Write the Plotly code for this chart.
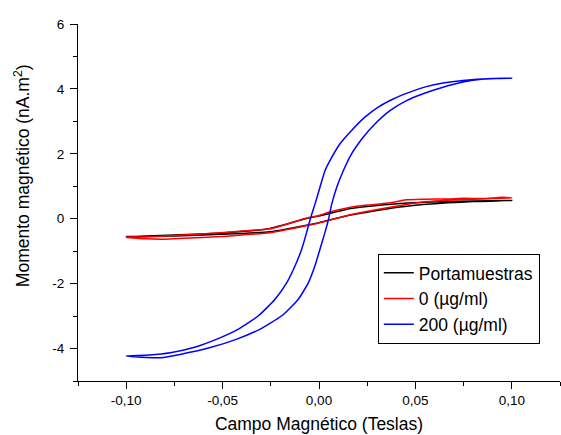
import plotly.graph_objects as go

# Hysteresis loops: field (T) vs magnetic moment (nA.m^2)
# Each loop: ascending branch (-0.10 -> 0.10) followed by descending branch (0.10 -> -0.10)

# Portamuestras (sample holder)
porta_x = [-0.100, -0.075, -0.051, -0.0254, -0.0064, 0.000, 0.0152, 0.0324, 0.0445, 0.067, 0.080, 0.100,
           0.080, 0.067, 0.0445, 0.0324, 0.0152, 0.000, -0.0064, -0.0254, -0.051, -0.075, -0.100]
porta_y = [-0.55, -0.53, -0.48, -0.40, -0.20, -0.12, 0.10, 0.28, 0.38, 0.49, 0.53, 0.56,
           0.55, 0.53, 0.48, 0.42, 0.30, 0.08, 0.01, -0.30, -0.44, -0.50, -0.55]

# 0 (ug/ml)
c0_x = [-0.100, -0.090, -0.080, -0.070, -0.051, -0.040, -0.0254, -0.0064, 0.000, 0.0152, 0.0324, 0.0445,
        0.055, 0.067, 0.080, 0.090, 0.100,
        0.095, 0.085, 0.075, 0.067, 0.055, 0.0445, 0.040, 0.0324, 0.025, 0.0152, 0.005, 0.000,
        -0.0064, -0.0254, -0.040, -0.051, -0.075, -0.090, -0.100]
c0_y = [-0.58, -0.62, -0.63, -0.60, -0.55, -0.50, -0.43, -0.21, -0.13, 0.11, 0.31, 0.43,
        0.52, 0.57, 0.60, 0.62, 0.64,
        0.66, 0.62, 0.63, 0.61, 0.60, 0.58, 0.52, 0.46, 0.42, 0.34, 0.20, 0.10,
        0.02, -0.31, -0.38, -0.43, -0.52, -0.56, -0.56]

# 200 (ug/ml)
c200_x = [-0.100, -0.092, -0.0823, -0.072, -0.0564, -0.0426, -0.0305, -0.0193, -0.0107, -0.0055, -0.0021,
          0.0005, 0.0031, 0.0050, 0.0066, 0.0092, 0.0126, 0.0169, 0.0229, 0.0290, 0.0368, 0.0454, 0.0540,
          0.0643, 0.0747, 0.083, 0.092, 0.100,
          0.090, 0.0747, 0.0643, 0.0557, 0.0471, 0.0385, 0.0307, 0.0238, 0.0169, 0.0109, 0.0066, 0.0031,
          0.0005, -0.0021, -0.0045, -0.0064, -0.0090, -0.0124, -0.0167, -0.0228, -0.0314, -0.0418, -0.0530,
          -0.0650, -0.0771, -0.088, -0.100]
c200_y = [-4.23, -4.27, -4.28, -4.18, -3.97, -3.71, -3.40, -2.99, -2.48, -1.97, -1.45,
          -0.94, -0.42, 0.00, 0.45, 0.97, 1.48, 2.00, 2.51, 2.92, 3.33, 3.64, 3.85,
          4.05, 4.21, 4.29, 4.32, 4.33,
          4.32, 4.26, 4.18, 4.07, 3.90, 3.69, 3.44, 3.13, 2.72, 2.31, 1.89, 1.48,
          0.97, 0.45, 0.00, -0.42, -0.94, -1.45, -1.97, -2.48, -2.99, -3.40, -3.71,
          -3.97, -4.13, -4.20, -4.23]

# Tick positions and labels (comma decimal separator)
x_tickvals = [-0.10, -0.05, 0.00, 0.05, 0.10]
x_ticktext = ["-0,10", "-0,05", "0,00", "0,05", "0,10"]
y_tickvals = [-4, -2, 0, 2, 4, 6]
y_ticktext = ["-4", "-2", "0", "2", "4", "6"]

FONT = "Liberation Sans, Arial, sans-serif"

fig = go.Figure()
series = [
    ("Portamuestras", porta_x, porta_y, "#000000"),
    ("0 (µg/ml)", c0_x, c0_y, "#ff0000"),
    ("200 (µg/ml)", c200_x, c200_y, "#0000ff"),
]
for name, xs, ys, color in series:
    fig.add_trace(go.Scatter(
        x=xs, y=ys, name=name, mode="lines",
        line=dict(color=color, width=1.5, shape="spline", smoothing=0.5),
    ))

axis_common = dict(
    showline=True, linecolor="black", linewidth=1,
    ticks="outside", ticklen=7, tickwidth=1, tickcolor="black",
    showgrid=False, zeroline=False, mirror=False,
    tickfont=dict(family=FONT, size=13.5, color="black"),
)

fig.update_xaxes(
    range=[-0.125, 0.125], tickvals=x_tickvals, ticktext=x_ticktext,
    minor=dict(dtick=0.025, tick0=0, ticks="outside", ticklen=4, tickcolor="black", showgrid=False),
    title=dict(text="Campo Magnético (Teslas)", font=dict(family=FONT, size=17.5, color="black"), standoff=10),
    **axis_common,
)
fig.update_yaxes(
    range=[-5, 6], tickvals=y_tickvals, ticktext=y_ticktext,
    minor=dict(dtick=1, tick0=0, ticks="outside", ticklen=4, tickcolor="black", showgrid=False),
    ticklabelstandoff=3,
    **axis_common,
)

# Vertical axis title
fig.add_annotation(
    text="Momento magnético (nA.m<sup>2</sup>)",
    xref="paper", yref="paper", x=-0.116, y=0.574,
    xanchor="center", yanchor="middle", textangle=-90, showarrow=False,
    font=dict(family=FONT, size=17.5, color="black"),
)

fig.update_layout(
    width=561, height=435,
    margin=dict(l=78, r=1, t=24, b=54),
    paper_bgcolor="white", plot_bgcolor="white",
    font=dict(family=FONT, color="black"),
    legend=dict(
        x=0.622, y=0.2297, xanchor="left", yanchor="middle",
        bordercolor="black", borderwidth=1, bgcolor="white",
        font=dict(family=FONT, size=17.5, color="black"),
        tracegroupgap=0,
    ),
)

fig.write_html("out.html")
